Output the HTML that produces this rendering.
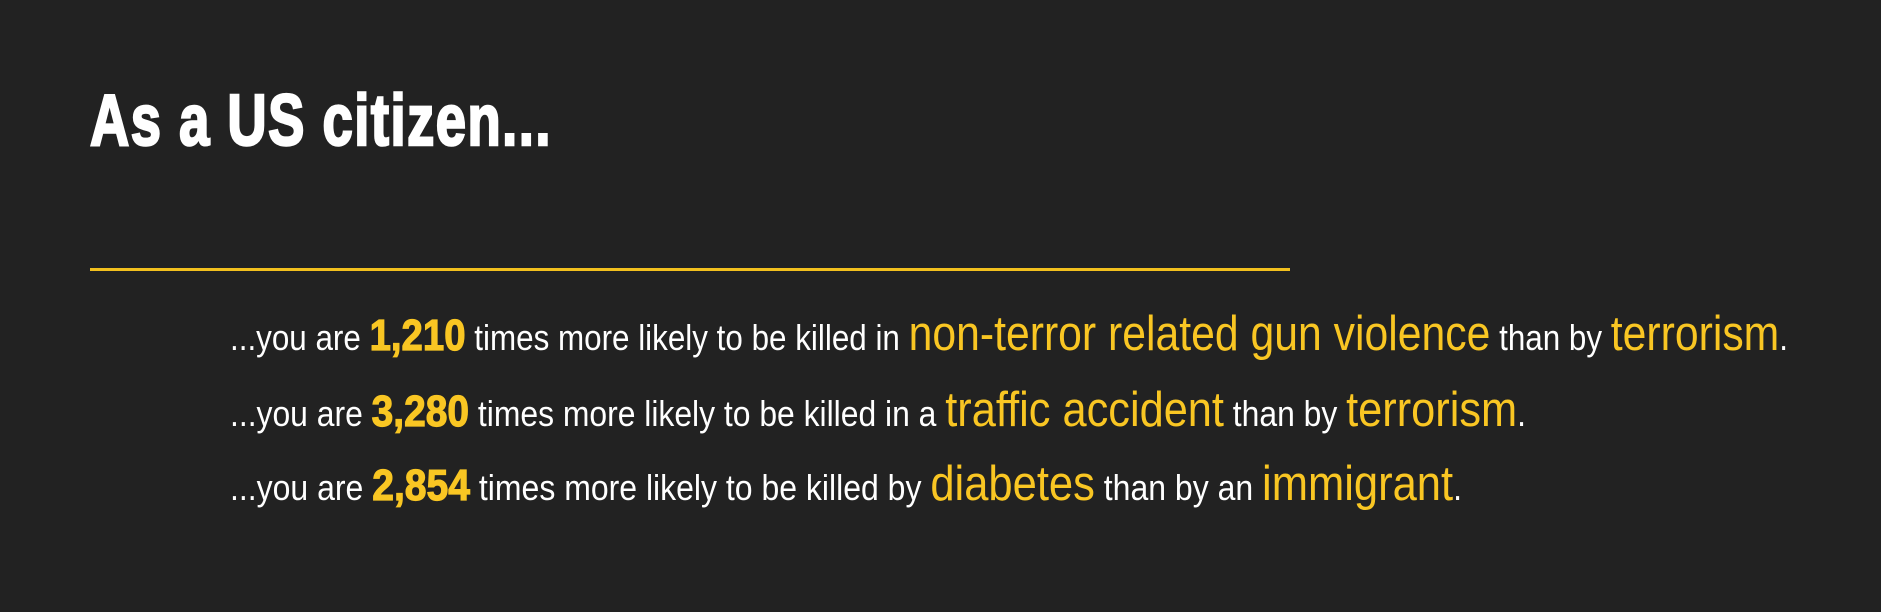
<!DOCTYPE html>
<html><head><meta charset="utf-8"><style>
html,body{margin:0;padding:0;background:#222222;width:1881px;height:612px;overflow:hidden}
body{position:relative;font-family:"Liberation Sans",sans-serif}
#title{position:absolute;left:90px;top:80px;font-size:72px;font-weight:bold;color:#fff;white-space:nowrap;transform-origin:0 0;letter-spacing:2px;-webkit-text-stroke:2.5px #fff}
#rule{position:absolute;left:90px;top:268px;width:1200px;height:3px;background:#f2c01e}
.line{position:absolute;left:230px;white-space:nowrap;color:#fff;font-size:36px;transform-origin:0 100%;line-height:1}
.y{color:#f9c623;font-size:49px}
.n{color:#f9c623;font-size:44px;font-weight:bold;-webkit-text-stroke:1.2px #f9c623}
</style></head><body>
<div id="title">As a US citizen...</div>
<div id="rule"></div>
<div class="line" id="l1" data-w="1558" style="top:310px">...you are <span class="n">1,210</span> times more likely to be killed in <span class="y">non-terror related gun violence</span> than by <span class="y">terrorism</span>.</div>
<div class="line" id="l2" data-w="1296" style="top:386px">...you are <span class="n">3,280</span> times more likely to be killed in a <span class="y">traffic accident</span> than by <span class="y">terrorism</span>.</div>
<div class="line" id="l3" data-w="1232" style="top:460px">...you are <span class="n">2,854</span> times more likely to be killed by <span class="y">diabetes</span> than by an <span class="y">immigrant</span>.</div>
<script>
document.querySelectorAll('.line').forEach(function(el){
  var w=el.getBoundingClientRect().width;
  el.style.transform='scaleX('+(parseFloat(el.dataset.w)/w)+')';
});
var t=document.getElementById('title');
var tw=t.getBoundingClientRect().width;
t.style.transform='scaleX('+(462/tw)+')';
</script>
</body></html>
